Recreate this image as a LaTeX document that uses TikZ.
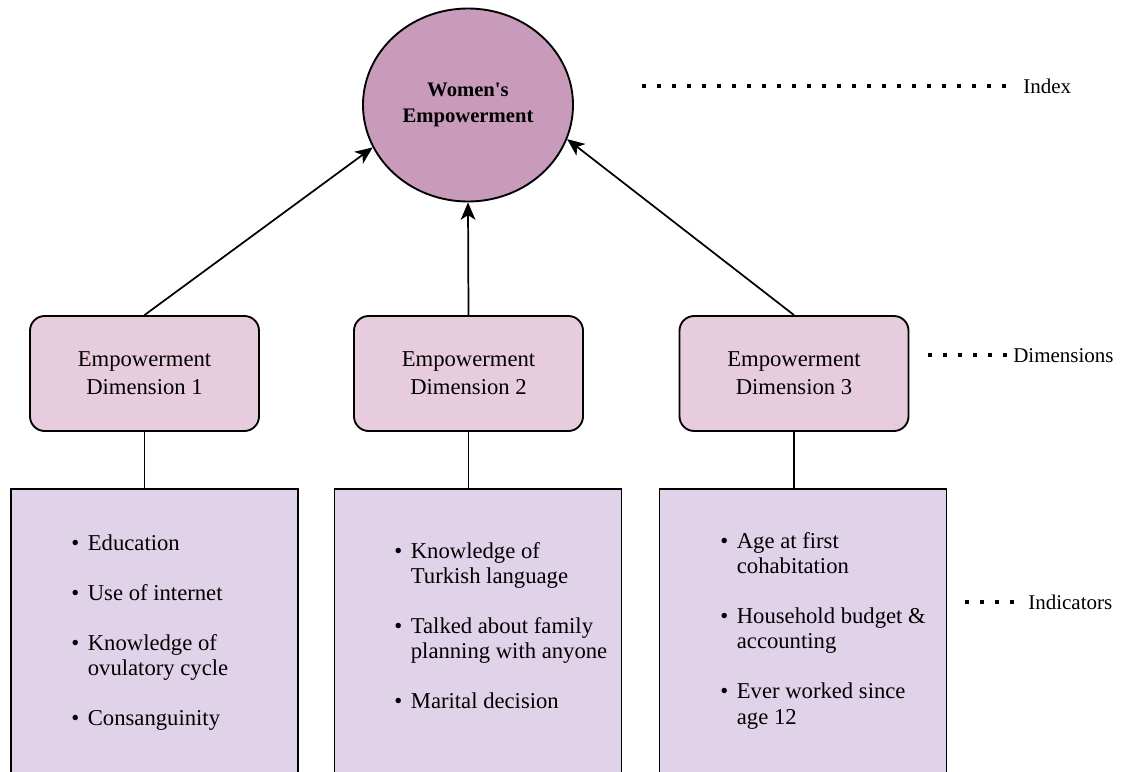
\documentclass[tikz,border=0pt]{standalone}
\usepackage{fontspec}
\setmainfont{Liberation Serif}
\usetikzlibrary{positioning,arrows.meta,shapes.geometric}
\definecolor{idxfill}{RGB}{201,155,187}
\definecolor{dimfill}{RGB}{230,204,220}
\definecolor{indfill}{RGB}{224,210,232}

\begin{document}
\begin{tikzpicture}[
  x=0.75pt, y=-0.75pt,
  >={Stealth[length=13pt,width=11pt,inset=3.5pt]},
  idx/.style={ellipse, draw=black, line width=1.4pt, fill=idxfill, minimum width=157.5pt,
              minimum height=144.75pt, inner sep=0pt, align=center,
              font=\fontsize{15.5}{20}\selectfont\bfseries},
  dim/.style={draw=black, line width=1.4pt, rounded corners=11pt, fill=dimfill, align=center,
              minimum width=171.75pt, minimum height=86.25pt, font=\fontsize{17}{21}\selectfont},
  ind/.style={draw=black, line width=1.4pt, fill=indfill, minimum width=215.25pt,
              minimum height=300pt, anchor=north},
  lst/.style={anchor=base west, inner sep=0pt, font=\fontsize{17}{19}\selectfont},
  lvl/.style={anchor=base west, inner sep=0pt, font=\fontsize{15.75}{19}\selectfont},
  arr/.style={->, draw=black, line width=1.3pt},
  lnk/.style={draw=black, line width=1.3pt},
  leader/.style={draw=black, line width=3pt, dash pattern=on 3pt off 8.25pt}
]
\clip (0,0) rectangle (1124,771);
% ---------------- index
\node[idx] (w) at (468,105) {Women\textquotesingle s\\ Empowerment};
% ---------------- dimensions
\node[dim] (d1) at (144.5,373.5) {Empowerment\\ Dimension 1};
\node[dim] (d2) at (468.5,373.5) {Empowerment\\ Dimension 2};
\node[dim] (d3) at (794,373.5) {Empowerment\\ Dimension 3};
\draw[arr] (d1.north) -- (w.204);
\draw[arr] (d2.north) -- (w.south);
\draw[arr] (d3.north) -- (w.341);
% ---------------- indicators
\node[ind] (i1) at (154.5,488) {};
\node[ind] (i2) at (478,488) {};
\node[ind] (i3) at (803,488) {};
\foreach \i in {1,2,3} { \draw[lnk] (d\i.south) -- (d\i.south |- i\i.north); }
\node[lst] (l1) at (71,550) {\begin{tabular}[t]{@{}l@{\hspace{6.5pt}}l@{}}
  \textbullet & Education\\[18.5pt]
  \textbullet & Use of internet\\[18.5pt]
  \textbullet & Knowledge of\\ & ovulatory cycle\\[18.5pt]
  \textbullet & Consanguinity
\end{tabular}};
\node[lst] (l2) at (394,558) {\begin{tabular}[t]{@{}l@{\hspace{6.5pt}}l@{}}
  \textbullet & Knowledge of\\ & Turkish language\\[18.5pt]
  \textbullet & Talked about family\\ & planning with anyone\\[18.5pt]
  \textbullet & Marital decision
\end{tabular}};
\node[lst] (l3) at (720,548) {\begin{tabular}[t]{@{}l@{\hspace{6.5pt}}l@{}}
  \textbullet & Age at first\\ & cohabitation\\[18.5pt]
  \textbullet & Household budget \&\\ & accounting\\[18.5pt]
  \textbullet & Ever worked since\\ & age 12
\end{tabular}};
% ---------------- levels
\node[lvl] (lx) at (1023,93) {Index};
\node[lvl] (ld) at (1013,362) {Dimensions};
\node[lvl] (li) at (1028,609) {Indicators};
\coordinate (sx) at (642,0 |- lx.west);
\coordinate (sd) at (928,0 |- ld.west);
\coordinate (si) at (965,0 |- li.west);
\draw[leader] (sx) -- ([xshift=-10pt]lx.west);
\draw[leader] (sd) -- ([xshift=-3pt]ld.west);
\draw[leader] (si) -- ([xshift=-10pt]li.west);
\end{tikzpicture}
\end{document}
